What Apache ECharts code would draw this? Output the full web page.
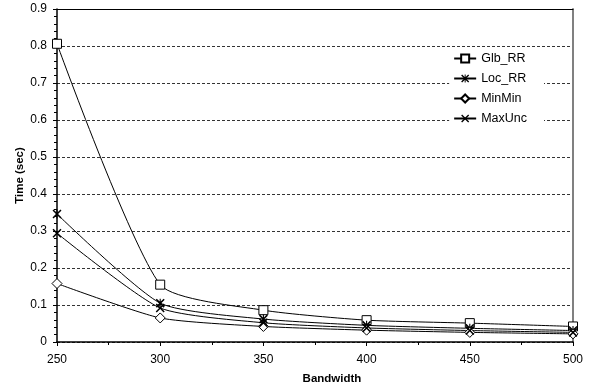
<!DOCTYPE html>
<html>
<head>
<meta charset="utf-8">
<script src="https://cdn.jsdelivr.net/npm/echarts@6/dist/echarts.min.js"></script>
<style>
html,body{margin:0;padding:0;background:#fff;}
#chart{width:597px;height:390px;}
</style>
</head>
<body>
<div id="chart"></div>
<script>
var bandwidth = [250, 300, 350, 400, 450, 500];
var glbRR  = [0.806, 0.155, 0.086, 0.059, 0.051, 0.042];
var locRR  = [0.346, 0.105, 0.062, 0.045, 0.037, 0.031];
var minMin = [0.158, 0.065, 0.042, 0.032, 0.026, 0.022];
var maxUnc = [0.294, 0.092, 0.052, 0.038, 0.031, 0.026];
var seriesNames = ['Glb_RR', 'Loc_RR', 'MinMin', 'MaxUnc'];

function pairs(vals){ return bandwidth.map(function(b,i){ return [b, vals[i]]; }); }

var XPATH = 'path://M0,1.2L1.2,0L5,3.8L8.8,0L10,1.2L6.2,5L10,8.8L8.8,10L5,6.2L1.2,10L0,8.8L3.8,5Z';
var STARPATH = 'path://M0,1.2L1.2,0L5,3.8L8.8,0L10,1.2L6.2,5L10,8.8L8.8,10L5,6.2L1.2,10L0,8.8L3.8,5Z M4.4,0L5.6,0L5.6,10L4.4,10Z';

var font = 'Liberation Sans, Arial, sans-serif';
var chart = echarts.init(document.getElementById('chart'), null, {renderer:'canvas'});

function mk(name, vals, symbol, size, filled){
  return {
    name: name, type: 'line', data: pairs(vals), smooth: 0.2,
    symbol: symbol, symbolSize: size, showAllSymbol: true,
    lineStyle: {color:'#000', width:1},
    itemStyle: filled ? {color:'#000', borderWidth:0} : {color:'#fff', borderColor:'#000', borderWidth:1},
    emphasis: {disabled:true}, z: 3
  };
}

chart.setOption({
  animation: false,
  backgroundColor: '#fff',
  textStyle: {fontFamily: font},
  grid: {left: 57, right: 24, top: 9, bottom: 48},
  legend: {
    orient: 'vertical', right: 53, top: 48,
    backgroundColor: '#fff', padding: [4, 17, 4, 4],
    itemWidth: 22, itemHeight: 10, itemGap: 7,
    textStyle: {fontFamily: font, fontSize: 12.5, color:'#000'},
    data: seriesNames, selectedMode: false
  },
  xAxis: [{
    type: 'value', min: 250, max: 500, interval: 50,
    name: 'Bandwidth', nameLocation: 'middle', nameGap: 31, nameMoveOverlap: false,
    nameTextStyle: {fontFamily: font, fontSize: 11.5, fontWeight: 'bold', color:'#000', padding: [0, 0, 0, 34]},
    axisLine: {show:true, onZero:false, lineStyle:{color:'#000', width:1.5}},
    axisTick: {show:true, inside:false, length:4, lineStyle:{color:'#000'}},
    minorTick: {show:true, splitNumber:2, length:3, lineStyle:{color:'#000'}},
    axisLabel: {fontFamily: font, fontSize: 12, color:'#000', margin: 12},
    splitLine: {show:false}
  },{
    type: 'value', min: 250, max: 500, position: 'top',
    axisLine: {show:true, onZero:false, lineStyle:{color:'#000', width:1}},
    axisTick: {show:false}, axisLabel: {show:false}, splitLine:{show:false}
  }],
  yAxis: [{
    type: 'value', min: 0, max: 0.9, interval: 0.1,
    name: 'Time (sec)', nameLocation: 'middle', nameGap: 31, nameMoveOverlap: false,
    nameTextStyle: {fontFamily: font, fontSize: 11.5, fontWeight: 'bold', color:'#000'},
    axisLine: {show:true, onZero:false, lineStyle:{color:'#000', width:1.5}},
    axisTick: {show:true, length:4, lineStyle:{color:'#000'}},
    minorTick: {show:true, splitNumber:5, length:3, lineStyle:{color:'#000'}},
    axisLabel: {fontFamily: font, fontSize: 12, color:'#000', margin: 10,
      formatter: function(v){ return v === 0 ? '0' : v.toFixed(1); }},
    splitLine: {show:true, lineStyle:{color:'#333', width:1, type:[3,2]}}
  },{
    type: 'value', min: 0, max: 0.9, position: 'right',
    axisLine: {show:true, onZero:false, lineStyle:{color:'#808080', width:2}},
    axisTick: {show:false}, axisLabel: {show:false}, splitLine:{show:false}
  }],
  series: [
    mk('Glb_RR', glbRR, 'rect', 9, false),
    mk('Loc_RR', locRR, STARPATH, 9, true),
    mk('MinMin', minMin, 'diamond', 10, false),
    mk('MaxUnc', maxUnc, XPATH, 9, true)
  ]
});
</script>
</body>
</html>
